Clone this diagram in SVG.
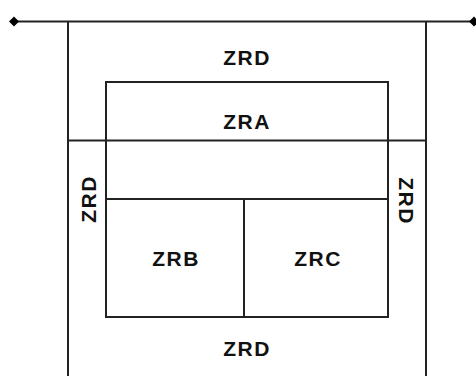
<svg xmlns="http://www.w3.org/2000/svg" width="476" height="376" viewBox="0 0 476 376">
<style>
.ln{stroke:#222;stroke-width:2;fill:none}
.t{font-family:"Liberation Sans",Arial,sans-serif;font-size:21px;font-weight:bold;fill:#111;text-anchor:middle;dominant-baseline:central;letter-spacing:1.5px}
</style>
<rect width="476" height="376" fill="#fff"/>
<g id="connectors">
<line class="ln" x1="14" y1="21.5" x2="476" y2="21.5"/>
<polygon points="14,16.5 19,21.5 14,26.5 9,21.5" fill="#000"/>
<polygon points="474,16.5 479,21.5 474,26.5 469,21.5" fill="#000"/>
</g>
<g id="ZRD">
<line class="ln" x1="68" y1="21.5" x2="68" y2="376"/>
<line class="ln" x1="426" y1="21.5" x2="426" y2="376"/>
<line class="ln" x1="68" y1="140.5" x2="426" y2="140.5"/>
<text class="t" x="247" y="57">ZRD</text>
<text class="t" x="247" y="348">ZRD</text>
<text class="t" transform="translate(88,199) rotate(-90)">ZRD</text>
<text class="t" transform="translate(406,201) rotate(90)">ZRD</text>
</g>
<g id="ZRA">
<rect class="ln" x="106" y="82" width="282" height="235"/>
<line class="ln" x1="106" y1="199" x2="388" y2="199"/>
<text class="t" x="247" y="121">ZRA</text>
</g>
<g id="ZRB">
<line class="ln" x1="244" y1="199" x2="244" y2="317"/>
<text class="t" x="176" y="258">ZRB</text>
</g>
<g id="ZRC">
<text class="t" x="318" y="258">ZRC</text>
</g>
</svg>
